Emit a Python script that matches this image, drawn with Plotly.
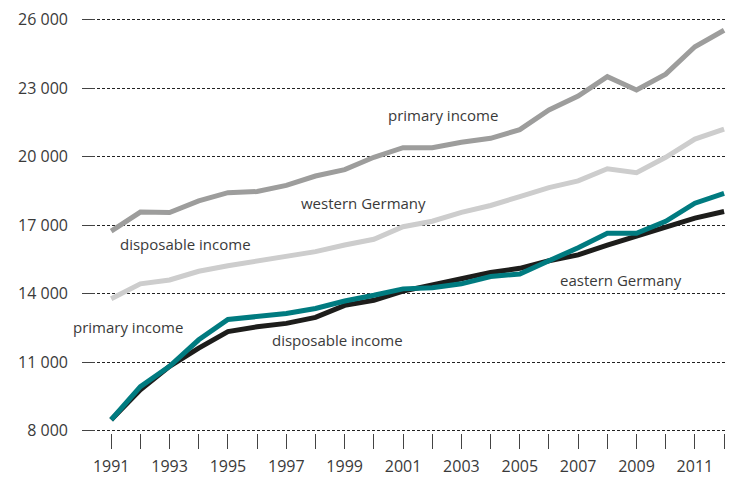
import plotly.graph_objects as go

years = list(range(1991, 2013))

west_primary = [16740, 17570, 17550, 18060, 18420, 18470, 18740, 19150, 19430, 19970, 20390,
                20390, 20630, 20800, 21180, 22040, 22650, 23500, 22920, 23610, 24810, 25530]
west_disposable = [13780, 14430, 14600, 14980, 15220, 15410, 15610, 15840, 16130, 16380, 16930,
                   17170, 17560, 17860, 18250, 18640, 18940, 19470, 19300, 19970, 20770, 21200]
east_primary = [8480, 9930, 10820, 11980, 12870, 13020, 13130, 13350, 13680, 13930, 14210,
                14260, 14430, 14750, 14860, 15440, 16010, 16640, 16640, 17170, 17960, 18390]
east_disposable = [8480, 9790, 10820, 11620, 12340, 12550, 12700, 12960, 13490, 13710, 14110,
                   14360, 14650, 14930, 15110, 15440, 15700, 16120, 16520, 16880, 17310, 17600]

y_ticks = [8000, 11000, 14000, 17000, 20000, 23000, 26000]
y_tick_labels = ["8 000", "11 000", "14 000", "17 000", "20 000", "23 000", "26 000"]
x_tick_labels = [str(y) if y % 2 == 1 else "" for y in years]

labels = [
    ("primary income", 2000.4, 21840, "left"),
    ("western Germany", 1997.45, 17990, "left"),
    ("disposable income", 1991.25, 16170, "left"),
    ("primary income", 1993.52, 12540, "right"),
    ("disposable income", 1996.45, 11980, "left"),
    ("eastern Germany", 2006.3, 14620, "left"),
]

FONT = "Open Sans"
TXT = "#3a3a3a"

fig = go.Figure()
fig.add_trace(go.Scatter(x=years, y=west_primary, mode="lines",
                         line=dict(color="#9d9d9c", width=5), cliponaxis=False))
fig.add_trace(go.Scatter(x=years, y=west_disposable, mode="lines",
                         line=dict(color="#cdcdcd", width=5), cliponaxis=False))
fig.add_trace(go.Scatter(x=years, y=east_disposable, mode="lines",
                         line=dict(color="#1d1d1b", width=5), cliponaxis=False))
fig.add_trace(go.Scatter(x=years, y=east_primary, mode="lines",
                         line=dict(color="#007b80", width=5), cliponaxis=False))

for text, x, y, anchor in labels:
    fig.add_annotation(x=x, y=y, xref="x", yref="y", text=text, showarrow=False,
                       xanchor=anchor, yanchor="middle",
                       font=dict(family=FONT, size=15, color=TXT))

# page body has an 8px margin, so the figure is sized to fill the remaining window
fig.update_layout(
    width=726, height=469,
    margin=dict(l=74, r=0, t=3, b=43),
    paper_bgcolor="white", plot_bgcolor="white",
    showlegend=False,
    font=dict(family=FONT, size=15, color=TXT),
)
fig.update_xaxes(
    range=[1990.0, 2012.34],
    tickvals=years, ticktext=x_tick_labels,
    ticks="outside", ticklen=15, tickcolor="#444", tickwidth=1,
    showgrid=False, zeroline=False, showline=False,
    ticklabelstandoff=4,
    tickfont=dict(family=FONT, size=16, color=TXT),
)
fig.update_yaxes(
    range=[7900, 26200],
    tickvals=y_ticks, ticktext=y_tick_labels,
    ticks="inside", ticklen=13, tickcolor="#444", tickwidth=1,
    showgrid=True, gridcolor="#222", gridwidth=1, griddash="3px,2px",
    zeroline=False, showline=False,
    ticklabelstandoff=13, ticklabeloverflow="allow",
    tickfont=dict(family=FONT, size=16, color=TXT),
)

fig.write_html("out.html")
